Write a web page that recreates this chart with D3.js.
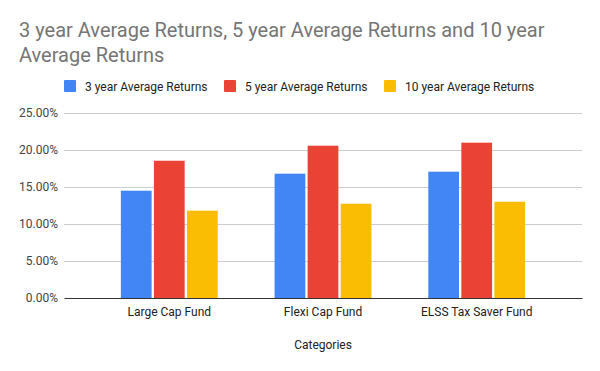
<!DOCTYPE html>
<html>
<head>
<meta charset="utf-8">
<script src="https://cdn.jsdelivr.net/npm/d3@7"></script>
<style>
  body { margin: 0; background: #fff; }
  svg { font-family: Roboto, Arial, sans-serif; }
</style>
</head>
<body>
<svg id="chart" width="600" height="371"></svg>
<script>
const categories = ["Large Cap Fund", "Flexi Cap Fund", "ELSS Tax Saver Fund"];
const seriesNames = ["3 year Average Returns", "5 year Average Returns", "10 year Average Returns"];
const threeYear = [14.5, 16.8, 17.07];
const fiveYear = [18.55, 20.58, 20.99];
const tenYear = [11.8, 12.74, 13.01];
const yTicks = [0, 5, 10, 15, 20, 25];
const colors = ["#4285f4", "#ea4335", "#fbbc04"];

const seriesValues = [threeYear, fiveYear, tenYear];
const data = categories.map((c, i) => ({
  cat: c,
  vals: seriesNames.map((s, j) => ({ key: s, value: seriesValues[j][i], color: colors[j] }))
}));

const svg = d3.select("#chart");
const margin = { top: 113, right: 18, bottom: 73, left: 64 };
const width = +svg.attr("width");
const height = +svg.attr("height");
const plotW = width - margin.left - margin.right;
const plotH = height - margin.top - margin.bottom;

// title
const title = svg.append("text")
  .attr("x", 19)
  .attr("y", 37)
  .attr("fill", "#757575")
  .style("font-size", "20px");
title.append("tspan").attr("x", 19).text("3 year Average Returns, 5 year Average Returns and 10 year");
title.append("tspan").attr("x", 19).attr("dy", 24.5).text("Average Returns");

// legend
const legendX = [64, 224, 384];
const legend = svg.append("g").attr("transform", "translate(0,80)");
seriesNames.forEach((s, i) => {
  const g = legend.append("g").attr("transform", `translate(${legendX[i]},0)`);
  g.append("rect").attr("width", 12).attr("height", 12).attr("rx", 1).attr("fill", colors[i]);
  g.append("text").attr("x", 21).attr("y", 10.5).attr("fill", "#222")
    .style("font-size", "12px").text(s);
});

const chart = svg.append("g")
  .attr("transform", `translate(${margin.left},${margin.top})`);

const x0 = d3.scaleBand()
  .domain(categories)
  .range([0, plotW])
  .paddingInner(0.37)
  .paddingOuter(0.37);

const x1 = d3.scaleBand()
  .domain(seriesNames)
  .range([0, x0.bandwidth()])
  .paddingInner(0.07);

const y = d3.scaleLinear()
  .domain([0, 25])
  .range([plotH, 0]);

// gridlines
chart.append("g")
  .selectAll("line")
  .data(yTicks.slice(1))
  .join("line")
  .attr("x1", 0)
  .attr("x2", plotW)
  .attr("y1", d => y(d) + 0.5)
  .attr("y2", d => y(d) + 0.5)
  .attr("stroke", "#cccccc");

// y labels
const yAxis = chart.append("g")
  .call(d3.axisLeft(y).tickValues(yTicks).tickSize(0).tickPadding(6)
    .tickFormat(d => d.toFixed(2) + "%"));
yAxis.select(".domain").remove();
yAxis.selectAll("text").attr("fill", "#444").style("font-size", "12px").style("font-family", "Roboto, Arial, sans-serif");

// bars
const groups = chart.selectAll("g.group")
  .data(data)
  .join("g")
  .attr("class", "group")
  .attr("transform", d => `translate(${x0(d.cat)},0)`);

groups.selectAll("rect")
  .data(d => d.vals)
  .join("rect")
  .attr("x", d => x1(d.key))
  .attr("y", d => y(d.value))
  .attr("width", x1.bandwidth())
  .attr("height", d => y(0) - y(d.value))
  .attr("fill", d => d.color);

// x axis
const xAxis = chart.append("g")
  .attr("transform", `translate(0,${plotH})`)
  .call(d3.axisBottom(x0).tickSize(0).tickPadding(9));
xAxis.select(".domain").attr("stroke", "#333").attr("stroke-width", 1.2);
xAxis.selectAll("text").attr("fill", "#222").style("font-size", "12px").style("font-family", "Roboto, Arial, sans-serif");

// x axis title
svg.append("text")
  .attr("x", margin.left + plotW / 2)
  .attr("y", 349)
  .attr("text-anchor", "middle")
  .attr("fill", "#222")
  .style("font-size", "12px")
  .text("Categories");
</script>
</body>
</html>
